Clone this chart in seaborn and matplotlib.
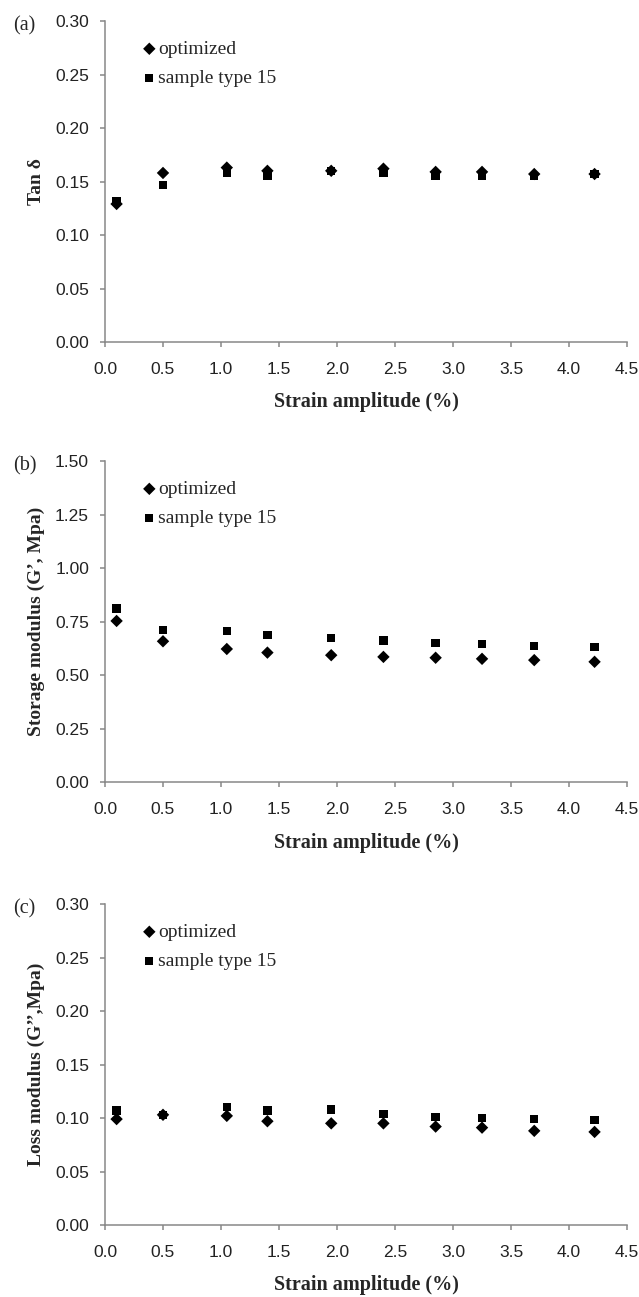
import numpy as np
import pandas as pd
import matplotlib
matplotlib.use('Agg')
import matplotlib.pyplot as plt
import seaborn as sns
from matplotlib.ticker import FormatStrFormatter

# strain amplitude (%) where both samples were measured
strain = [0.1, 0.5, 1.05, 1.4, 1.95, 2.4, 2.85, 3.25, 3.7, 4.22]

# (a) tan delta
tan_opt = [0.129, 0.158, 0.163, 0.160, 0.160, 0.162, 0.159, 0.159, 0.157, 0.157]
tan_s15 = [0.132, 0.147, 0.158, 0.155, 0.160, 0.158, 0.155, 0.155, 0.155, 0.157]

# (b) storage modulus G' (MPa)
g1_opt = [0.753, 0.658, 0.622, 0.605, 0.593, 0.585, 0.581, 0.576, 0.570, 0.562]
g1_s15 = [0.811, 0.710, 0.705, 0.687, 0.673, 0.662, 0.650, 0.644, 0.636, 0.630]

# (c) loss modulus G'' (MPa)
g2_opt = [0.099, 0.103, 0.102, 0.097, 0.095, 0.095, 0.092, 0.091, 0.088, 0.087]
g2_s15 = [0.107, 0.103, 0.110, 0.107, 0.108, 0.104, 0.101, 0.100, 0.099, 0.098]

series = ['optimized', 'sample type 15']
panel_labels = ['(a)', '(b)', '(c)']
ylabels = ['Tan δ', 'Storage modulus (G’, Mpa)', 'Loss modulus (G’’,Mpa)']
yticks = [np.arange(0, 0.301, 0.05), np.arange(0, 1.501, 0.25), np.arange(0, 0.301, 0.05)]
xticks = np.arange(0, 4.51, 0.5)

panels = [(tan_opt, tan_s15), (g1_opt, g1_s15), (g2_opt, g2_s15)]

sns.set_theme(style='ticks')
plt.rcParams['font.family'] = ['Liberation Sans', 'DejaVu Sans']
serif = ['Liberation Serif', 'DejaVu Serif']
grey = '#878787'

fig = plt.figure(figsize=(6.39, 12.97), dpi=100)
bottoms = [0.7363, 0.397, 0.0555]

for i, (opt, s15) in enumerate(panels):
    ax = fig.add_axes([0.1643, bottoms[i], 0.817, 0.2475])
    df = pd.DataFrame({'strain': strain * 2,
                       'value': opt + s15,
                       'series': [series[0]] * len(strain) + [series[1]] * len(strain)})
    sns.scatterplot(data=df[df.series == series[0]], x='strain', y='value', marker='D',
                    s=40, color='black', edgecolor='none', label=series[0], ax=ax)
    sns.scatterplot(data=df[df.series == series[1]], x='strain', y='value', marker='s',
                    s=36, color='black', edgecolor='none', label=series[1], ax=ax)

    ax.set_xlim(0, 4.5)
    ax.set_ylim(yticks[i][0], yticks[i][-1])
    ax.set_xticks(xticks)
    ax.set_yticks(yticks[i])
    ax.xaxis.set_major_formatter(FormatStrFormatter('%.1f'))
    ax.yaxis.set_major_formatter(FormatStrFormatter('%.2f'))
    sns.despine(ax=ax)
    for sp in ['left', 'bottom']:
        ax.spines[sp].set_color(grey)
        ax.spines[sp].set_linewidth(1.1)
    ax.tick_params(axis='both', colors=grey, labelcolor='#222222', labelsize=12.5,
                   length=3.5, width=1.1)
    ax.tick_params(axis='x', pad=11)
    ax.tick_params(axis='y', pad=8)

    ax.set_xlabel('Strain amplitude (%)', family=serif, fontweight='bold', fontsize=14.5,
                  labelpad=11)
    ax.set_ylabel(ylabels[i], family=serif, fontweight='bold', fontsize=14)
    ax.yaxis.set_label_coords(-0.115, 0.5)

    ax.text(-0.176, 0.985, panel_labels[i], transform=ax.transAxes, family=serif,
            fontsize=14.5, ha='left', va='center')

    ax.legend(loc='upper left', bbox_to_anchor=(0.07, 0.94), frameon=False,
              prop={'family': serif, 'size': 14}, handletextpad=0.05, handlelength=0.8,
              labelspacing=0.6, borderpad=0, borderaxespad=0)

fig.savefig('out.png', dpi=100)
